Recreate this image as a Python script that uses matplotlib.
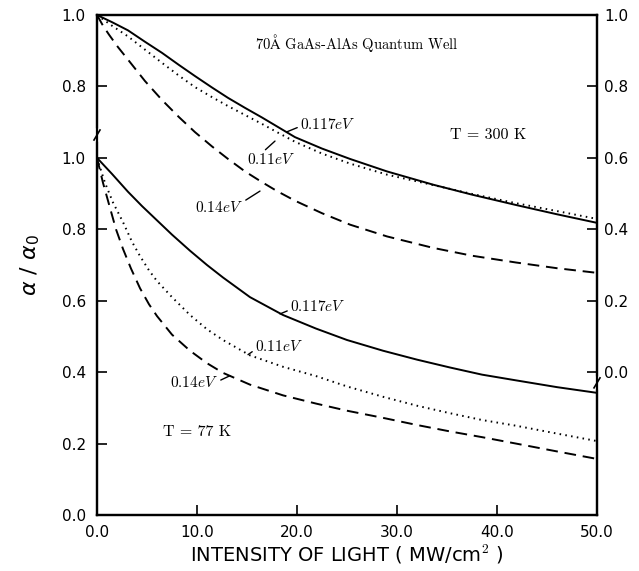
import matplotlib
matplotlib.use("Agg")
import matplotlib.pyplot as plt

plt.rcParams['mathtext.fontset'] = 'cm'

# 77 K curves (left axis, alpha/alpha0)
x_77_117 = [0, 1.5, 3.1, 4.5, 6.0, 7.5, 9.3, 11.0, 12.6, 15.3, 18.6, 21.9, 25.0, 28.6, 32.0, 35.3, 38.5, 41.9, 46.0, 50]
y_77_117 = [1.0, 0.955, 0.905, 0.865, 0.825, 0.785, 0.74, 0.70, 0.665, 0.61, 0.56, 0.522, 0.49, 0.46, 0.435,
            0.413, 0.393, 0.377, 0.358, 0.342]
x_77_11 = [0, 0.8, 1.6, 2.6, 3.5, 4.3, 5.2, 6.0, 7.5, 9.3, 11.0, 12.6, 15.3, 18.6, 21.9, 25.0, 28.6, 32.0,
           35.3, 38.5, 41.9, 46.0, 50]
y_77_11 = [1.0, 0.93, 0.875, 0.82, 0.765, 0.725, 0.685, 0.655, 0.61, 0.56, 0.52, 0.49, 0.447, 0.415, 0.389,
           0.36, 0.331, 0.306, 0.285, 0.266, 0.25, 0.228, 0.207]
x_77_14 = [0, 0.6, 1.2, 1.9, 2.6, 3.4, 4.3, 5.2, 6.0, 7.5, 9.3, 11.0, 12.6, 15.3, 18.6, 21.9, 25.0, 28.6,
           32.0, 35.3, 38.5, 41.9, 46.0, 50]
y_77_14 = [1.0, 0.93, 0.87, 0.80, 0.745, 0.69, 0.635, 0.59, 0.557, 0.505, 0.46, 0.425, 0.398, 0.365, 0.335,
           0.312, 0.292, 0.272, 0.252, 0.234, 0.218, 0.20, 0.178, 0.157]

# 300 K curves (right axis)
x_300 = [0, 1.5, 3.1, 4.8, 6.5, 8.2, 9.8, 11.5, 13.1, 14.8, 16.5, 18.0, 19.8, 22.5, 25.3, 29.0, 33.6, 37.5,
         41.9, 46.0, 50]
y_300_117 = [1.0, 0.98, 0.957, 0.925, 0.894, 0.86, 0.829, 0.797, 0.768, 0.74, 0.713, 0.688, 0.658, 0.626,
             0.597, 0.562, 0.525, 0.497, 0.468, 0.442, 0.418]
y_300_11 = [1.0, 0.97, 0.94, 0.903, 0.866, 0.83, 0.798, 0.77, 0.745, 0.72, 0.695, 0.672, 0.645, 0.612,
            0.584, 0.553, 0.524, 0.499, 0.473, 0.451, 0.429]
x_300_14 = [0, 0.6, 1.2, 2.1, 3.1, 4.8, 6.5, 8.2, 9.8, 11.5, 13.1, 14.8, 16.5, 18.0, 19.8, 22.5, 25.3, 29.0,
            33.6, 37.5, 41.9, 46.0, 50]
y_300_14 = [1.0, 0.97, 0.945, 0.91, 0.875, 0.815, 0.762, 0.714, 0.672, 0.632, 0.597, 0.562, 0.532, 0.507,
            0.48, 0.445, 0.413, 0.38, 0.348, 0.326, 0.307, 0.291, 0.278]

left_ticks = [0.0, 0.2, 0.4, 0.6, 0.8, 1.0, 1.2, 1.4]
left_labels = ['0.0', '0.2', '0.4', '0.6', '0.8', '1.0', '0.8', '1.0']
right_ticks = [0.0, 0.2, 0.4, 0.6, 0.8, 1.0]
x_ticks = [0, 10, 20, 30, 40, 50]

serif = ['cmr10', 'DejaVu Serif']
dotted = (0, (0.8, 2.2))
dashed = (0, (6, 3.5))

fig = plt.figure(figsize=(6.39, 5.71), dpi=100)
ax = fig.add_axes([97/639, 56/571, 500/639, 500/571])
ax2 = ax.twinx()

lw = 1.4
ax.plot(x_77_117, y_77_117, color='black', lw=lw)
ax.plot(x_77_11, y_77_11, color='black', lw=lw, linestyle=dotted)
ax.plot(x_77_14, y_77_14, color='black', lw=lw, linestyle=dashed)

ax2.plot(x_300, y_300_117, color='black', lw=lw)
ax2.plot(x_300, y_300_11, color='black', lw=lw, linestyle=dotted)
ax2.plot(x_300_14, y_300_14, color='black', lw=lw, linestyle=dashed)

ax.set_xlim(0, 50)
ax.set_ylim(0, 1.4)
ax2.set_ylim(-0.4, 1.0)

ax.set_xticks(x_ticks)
ax.set_xticklabels(['%.1f' % v for v in x_ticks])
ax.set_yticks(left_ticks)
ax.set_yticklabels(left_labels)
ax2.set_yticks(right_ticks)
ax2.set_yticklabels(['%.1f' % v for v in right_ticks])

ax.tick_params(axis='x', direction='in', length=7, width=1.2, pad=7, labelsize=11)
ax.tick_params(axis='y', direction='in', length=7, width=1.2, pad=8, labelsize=11)
ax2.tick_params(axis='y', direction='in', length=7, width=1.2, pad=5, labelsize=11)

for a in (ax, ax2):
    for s in a.spines.values():
        s.set_linewidth(1.6)

ax.set_xlabel('INTENSITY OF LIGHT ( MW/cm$^2$ )', fontsize=14, labelpad=2)
ax.set_ylabel(r'$\alpha\ /\ \alpha_0$', fontsize=16, labelpad=14, math_fontfamily='dejavusans')

# axis breaks
def axis_break(axis, xa, y):
    tr = axis.get_yaxis_transform()
    axis.plot([xa, xa], [y - 0.012, y + 0.012], color='white', lw=4, transform=tr, clip_on=False, zorder=5)
    axis.plot([xa - 0.006, xa + 0.006], [y - 0.014, y + 0.014], color='black', lw=1.2, transform=tr,
              clip_on=False, zorder=6)

axis_break(ax, 0.0, 1.064)
axis_break(ax, 1.0, 0.37)

# texts
ax.text(15.8, 1.322, r'$\mathrm{70\AA}$ GaAs-AlAs Quantum Well', family=serif, fontsize=10.5, va='center')
ax.text(35.3, 1.064, 'T = 300 K', family=serif, fontsize=11.5, va='center')
ax.text(6.6, 0.232, 'T = 77 K', family=serif, fontsize=11.5, va='center')

lead = dict(arrowstyle='-', lw=1.0, color='black', shrinkA=0, shrinkB=0)

ax.annotate(r'$0.117eV$', xy=(19.0, 1.073), xytext=(20.3, 1.092), fontsize=11, va='center',
            arrowprops=dict(lead, relpos=(0, 0.4)))
ax.annotate(r'$0.11eV$', xy=(17.8, 1.047), xytext=(15.0, 0.994), fontsize=11, va='center',
            arrowprops=dict(lead, relpos=(0.32, 1.0)))
ax.annotate(r'$0.14eV$', xy=(16.3, 0.907), xytext=(9.8, 0.86), fontsize=11, va='center',
            arrowprops=dict(lead, relpos=(1.0, 0.9)))

ax.annotate(r'$0.117eV$', xy=(18.3, 0.563), xytext=(19.3, 0.583), fontsize=11, va='center',
            arrowprops=dict(lead, relpos=(0, 0.3)))
ax.annotate(r'$0.11eV$', xy=(15.1, 0.449), xytext=(15.8, 0.471), fontsize=11, va='center',
            arrowprops=dict(lead, relpos=(0, 0.3)))
ax.annotate(r'$0.14eV$', xy=(13.3, 0.39), xytext=(7.3, 0.370), fontsize=11, va='center',
            arrowprops=dict(lead, relpos=(1.0, 0.6)))

fig.savefig('out.png', dpi=100)
